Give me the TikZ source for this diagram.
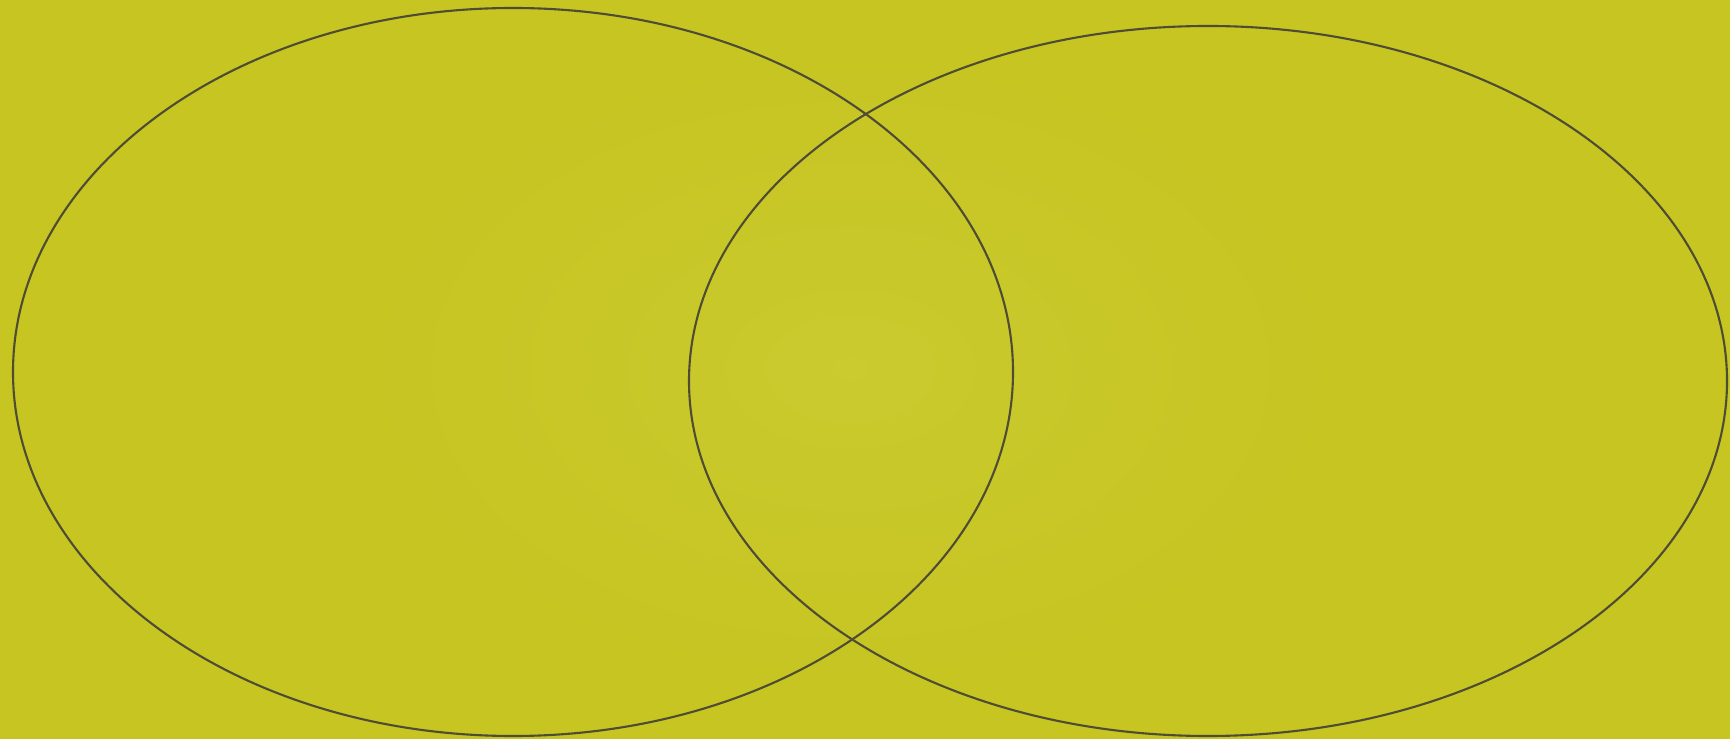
\documentclass[tikz,border=0pt]{standalone}
\usepackage{xcolor}
\usepackage{tikz}

\definecolor{paper}{RGB}{198,197,34}
\definecolor{pencil}{RGB}{78,76,52}

\begin{document}
\begin{tikzpicture}[x=1cm,y=1cm]
    \def\pw{17.30}
    \def\ph{7.39}

    % sheet of paper
    \fill[paper] (0,0) rectangle (\pw,\ph);
    \shade[inner color=paper!80!white!92!yellow,outer color=paper,opacity=0.35]
        (3.5,0.5) rectangle (13.5,6.9);
    \useasboundingbox (0,0) rectangle (\pw,\ph);

    % the two sets
    \coordinate (setA) at (5.13,3.67);
    \coordinate (setB) at (12.08,3.58);
    \draw[pencil,line width=0.6pt] (setA) ellipse (5.00 and 3.64);
    \draw[pencil,line width=0.6pt] (setB) ellipse (5.19 and 3.55);
\end{tikzpicture}
\end{document}
